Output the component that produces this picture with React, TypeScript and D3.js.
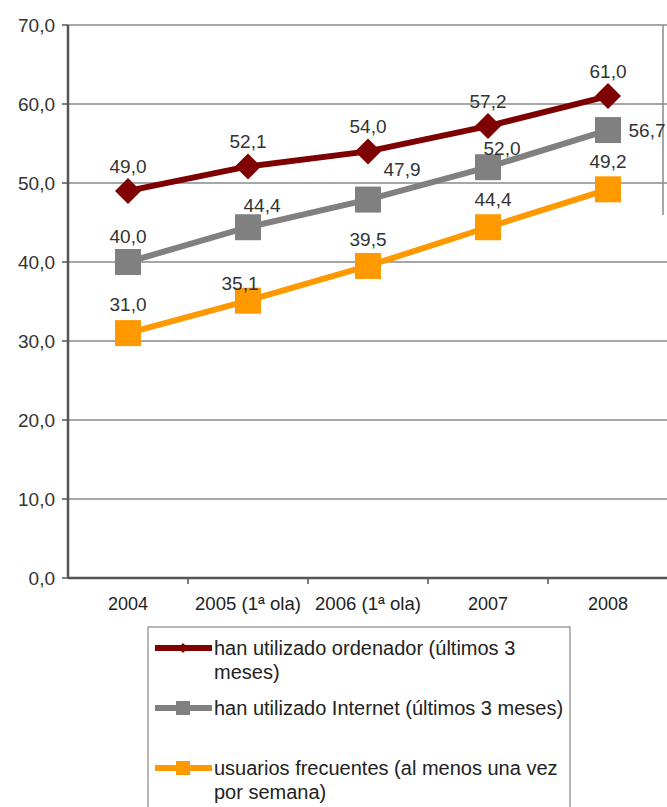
import React from "react";
import * as d3 from "d3";

const categories = ["2004", "2005 (1ª ola)", "2006 (1ª ola)", "2007", "2008"];
const ordenador = [49.0, 52.1, 54.0, 57.2, 61.0];
const internet = [40.0, 44.4, 47.9, 52.0, 56.7];
const frecuentes = [31.0, 35.1, 39.5, 44.4, 49.2];
const yTicks = [0, 10, 20, 30, 40, 50, 60, 70];
const legendLabels = [
  ["han utilizado ordenador (últimos 3", "meses)"],
  ["han utilizado Internet (últimos 3 meses)"],
  ["usuarios frecuentes (al menos una vez", "por semana)"],
];

// label offsets per series (dx, dy) relative to point
const offsOrd = [[0, -25], [0, -25], [0, -25], [0, -25], [0, -25]];
const offsInt = [[0, -26], [14, -22], [34, -31], [14, -19], [39, 0]];
const offsFre = [[0, -29], [-8, -18], [0, -27], [5, -28], [0, -28]];

export default function App() {
  const W = 667, H = 807;
  const left = 68, right = 667, top = 25, bottom = 578;
  const x = d3.scaleBand().domain(categories).range([left, right + 1]);
  const y = d3.scaleLinear().domain([0, 70]).range([bottom, top]);
  const cx = (c: string) => (x(c) as number) + x.bandwidth() / 2;
  const line = d3.line<[number, number]>().x(d => d[0]).y(d => d[1]);
  const font = "'Liberation Sans', Arial, sans-serif";
  const fmt = (v: number) => v.toFixed(1).replace(".", ",");

  const series = [
    { data: ordenador, color: "#7f0000", marker: "diamond", offs: offsOrd },
    { data: internet, color: "#808080", marker: "square", offs: offsInt },
    { data: frecuentes, color: "#ff9900", marker: "square", offs: offsFre },
  ];

  const marker = (m: string, px: number, py: number, color: string, s: number) =>
    m === "diamond" ? (
      <path d={`M${px},${py - s}L${px + s},${py}L${px},${py + s}L${px - s},${py}Z`} fill={color} />
    ) : (
      <rect x={px - s} y={py - s} width={2 * s} height={2 * s} fill={color} />
    );

  return (
    <svg width={W} height={H} style={{ position: "absolute", left: 0, top: 0, background: "#fff" }} fontFamily={font}>
      <rect x={0} y={0} width={W} height={H} fill="#fff" />
      {yTicks.map(t => (
        <g key={t}>
          {t > 0 && <line x1={left} x2={right} y1={y(t)} y2={y(t)} stroke="#8a8a8a" strokeWidth={1.5} />}
          <line x1={left - 6} x2={left} y1={y(t)} y2={y(t)} stroke="#555" strokeWidth={1.5} />
          <text x={left - 13} y={y(t) + 7} textAnchor="end" fontSize={19} fill="#333">{fmt(t)}</text>
        </g>
      ))}
      <line x1={663} x2={663} y1={top} y2={215} stroke="#8a8a8a" strokeWidth={1.5} />
      <line x1={left} x2={left} y1={top} y2={bottom} stroke="#555" strokeWidth={2.5} />
      <line x1={left} x2={right} y1={bottom} y2={bottom} stroke="#555" strokeWidth={2.5} />
      {categories.map((c, i) => (
        <g key={c}>
          <line x1={(x(c) as number) + x.bandwidth()} x2={(x(c) as number) + x.bandwidth()} y1={bottom} y2={bottom + 6} stroke="#555" strokeWidth={1.5} />
          <text x={cx(c)} y={bottom + 32} textAnchor="middle" fontSize={18} fill="#222" textLength={i === 1 || i === 2 ? 106 : undefined} lengthAdjust="spacingAndGlyphs">{c}</text>
        </g>
      ))}
      {series.map((s, si) => {
        const pts = s.data.map((v, i) => [cx(categories[i]), y(v)] as [number, number]);
        return (
          <g key={si}>
            <path d={line(pts) as string} fill="none" stroke={s.color} strokeWidth={6} />
            {pts.map((p, i) => (
              <g key={i}>{marker(s.marker, p[0], p[1], s.color, 13)}</g>
            ))}
          </g>
        );
      })}
      {series.map((s, si) =>
        s.data.map((v, i) => (
          <text key={`${si}-${i}`} x={cx(categories[i]) + s.offs[i][0]} y={y(v) + s.offs[i][1] + 7}
            textAnchor="middle" fontSize={19} fill="#333">{fmt(v)}</text>
        ))
      )}
      <rect x={148} y={627} width={422} height={190} fill="#fff" stroke="#888" strokeWidth={1.2} />
      {legendLabels.map((lines, i) => {
        const ly = [648, 708, 768][i];
        const s = series[i];
        return (
          <g key={i}>
            <line x1={155} x2={212} y1={ly} y2={ly} stroke={s.color} strokeWidth={6} />
            {s.marker === "diamond" ? marker("diamond", 183, ly, s.color, 5) : marker("square", 183, ly, s.color, 7)}
            {lines.map((t, j) => (
              <text key={j} x={214} y={ly + 7 + j * 24} fontSize={20} fill="#222">{t}</text>
            ))}
          </g>
        );
      })}
    </svg>
  );
}
